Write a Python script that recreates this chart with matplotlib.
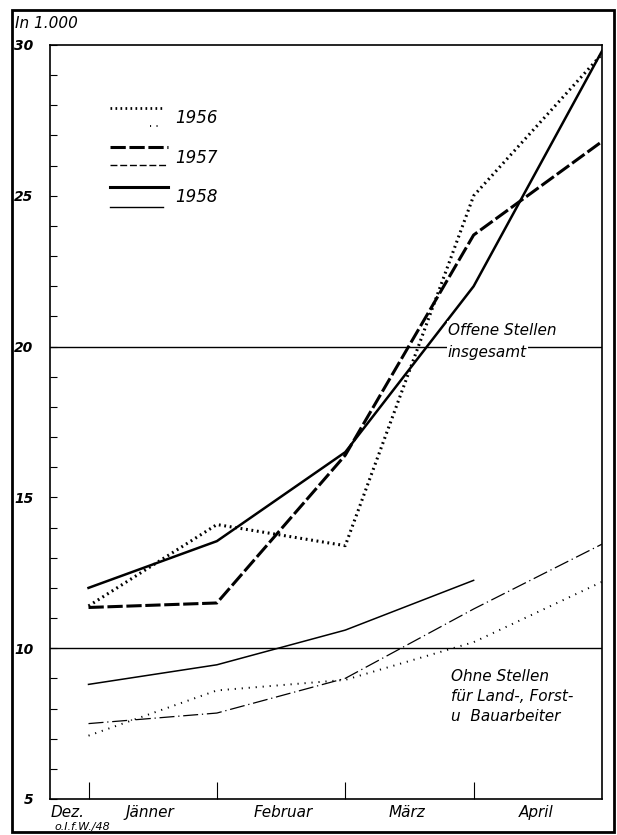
import matplotlib.pyplot as plt
from matplotlib.patches import Rectangle

plt.rcParams['font.family'] = 'DejaVu Sans'
plt.rcParams['font.style'] = 'italic'

# month-end positions: Dez., Jaenner, Februar, Maerz, April
months = ['Dez.', 'Jänner', 'Februar', 'März', 'April']
x_pos = [0, 1, 2, 3, 4]

# Offene Stellen insgesamt (in 1.000)
total_1956 = [11.4, 14.1, 13.4, 25.0, 29.7]
total_1957 = [11.35, 11.5, 16.4, 23.7, 26.8]
total_1958 = [12.0, 13.55, 16.5, 22.0, 29.8]

# Ohne Stellen fuer Land-, Forst- u. Bauarbeiter
other_1956 = [7.1, 8.6, 8.95, 10.2, 12.2]
other_1957 = [7.5, 7.85, 9.0, 11.3, 13.45]
other_1958 = [8.8, 9.45, 10.6, 12.25]

fig = plt.figure(figsize=(6.17, 8.35), dpi=100)
ax = fig.add_axes([50/617, 1-799/835, 552/617, 754/835])

dot_thick = (0, (0.6, 1.2))
dash_thick = (0, (5, 1.2))
dash_thin = (0, (12, 3, 1, 3))

ax.plot(x_pos, total_1956, color='k', lw=2.2, ls=dot_thick)
ax.plot(x_pos, total_1957, color='k', lw=2.2, ls=dash_thick)
ax.plot(x_pos, total_1958, color='k', lw=1.8)

ax.plot(x_pos, other_1956, color='k', lw=1.4, ls=(0, (0.6, 3)))
ax.plot(x_pos, other_1957, color='k', lw=0.9, ls=dash_thin)
ax.plot(x_pos[:len(other_1958)], other_1958, color='k', lw=1.1)

# reference lines at 20 and 10
ax.axhline(20, color='k', lw=1.0)
ax.axhline(10, color='k', lw=1.0)

ax.text(2.8, 20.55, 'Offene Stellen', fontsize=11, ha='left', va='center',
        bbox=dict(facecolor='white', edgecolor='none', pad=1))
ax.text(2.8, 19.8, 'insgesamt', fontsize=11, ha='left', va='center',
        bbox=dict(facecolor='white', edgecolor='none', pad=1))
ax.text(2.82, 9.05, 'Ohne Stellen', fontsize=11, ha='left', va='center')
ax.text(2.82, 8.4, 'für Land-, Forst-', fontsize=11, ha='left', va='center')
ax.text(2.82, 7.75, 'u  Bauarbeiter', fontsize=11, ha='left', va='center')

# legend drawn by hand: upper (thick) and lower (thin) line for each year
def ax_xy(px, py):
    return (px - 50) / 552, (799 - py) / 754

leg = [
    ('1956', (110, 165, 108), dot_thick, 2.0, (150, 163, 126), (0, (0.6, 3)), 1.3, 118),
    ('1957', (110, 168, 147), dash_thick, 2.2, (110, 168, 165), (0, (5, 2)), 1.0, 158),
    ('1958', (110, 168, 187), '-', 2.2, (110, 163, 207), '-', 1.0, 197),
]
for lab, top, ls1, lw1, bot, ls2, lw2, ty in leg:
    x0, y0 = ax_xy(top[0], top[2])
    x1, _ = ax_xy(top[1], top[2])
    ax.plot([x0, x1], [y0, y0], color='k', lw=lw1, ls=ls1, transform=ax.transAxes)
    x0, y0 = ax_xy(bot[0], bot[2])
    x1, _ = ax_xy(bot[1], bot[2])
    ax.plot([x0, x1], [y0, y0], color='k', lw=lw2, ls=ls2, transform=ax.transAxes)
    tx, tyy = ax_xy(175, ty)
    ax.text(tx, tyy, lab, fontsize=12, ha='left', va='center', transform=ax.transAxes)

ax.set_xlim(-0.3, 4)
ax.set_ylim(5, 30)

ax.set_yticks([5, 10, 15, 20, 25, 30])
ax.set_yticklabels(['5', '10', '15', '20', '25', '30'], fontsize=10, fontweight='bold')
ax.set_yticks(range(5, 31), minor=True)
ax.tick_params(axis='y', which='both', direction='in', length=5, width=0.8, pad=12)

ax.set_xticks([0, 1, 2, 3])
ax.set_xticklabels([])
ax.set_xticks([-0.16, 0.48, 1.52, 2.48, 3.49], minor=True)
ax.set_xticklabels(months, minor=True, fontsize=11)
ax.tick_params(axis='x', which='major', direction='in', length=12, width=0.8)
ax.tick_params(axis='x', which='minor', length=0, pad=4)

for s in ax.spines.values():
    s.set_linewidth(1.2)

fig.text(15/617, 1-24/835, 'In 1.000', fontsize=11, ha='left', va='center')
fig.text(54/617, 1-827/835, 'o.I.f.W./48', fontsize=8, ha='left', va='center')

# outer frame of the figure
fig.patches.append(Rectangle((12/617, 1-832/835), 602/617, 822/835,
                             transform=fig.transFigure, fill=False,
                             edgecolor='k', lw=2.0))

plt.savefig('out.png', dpi=100)
